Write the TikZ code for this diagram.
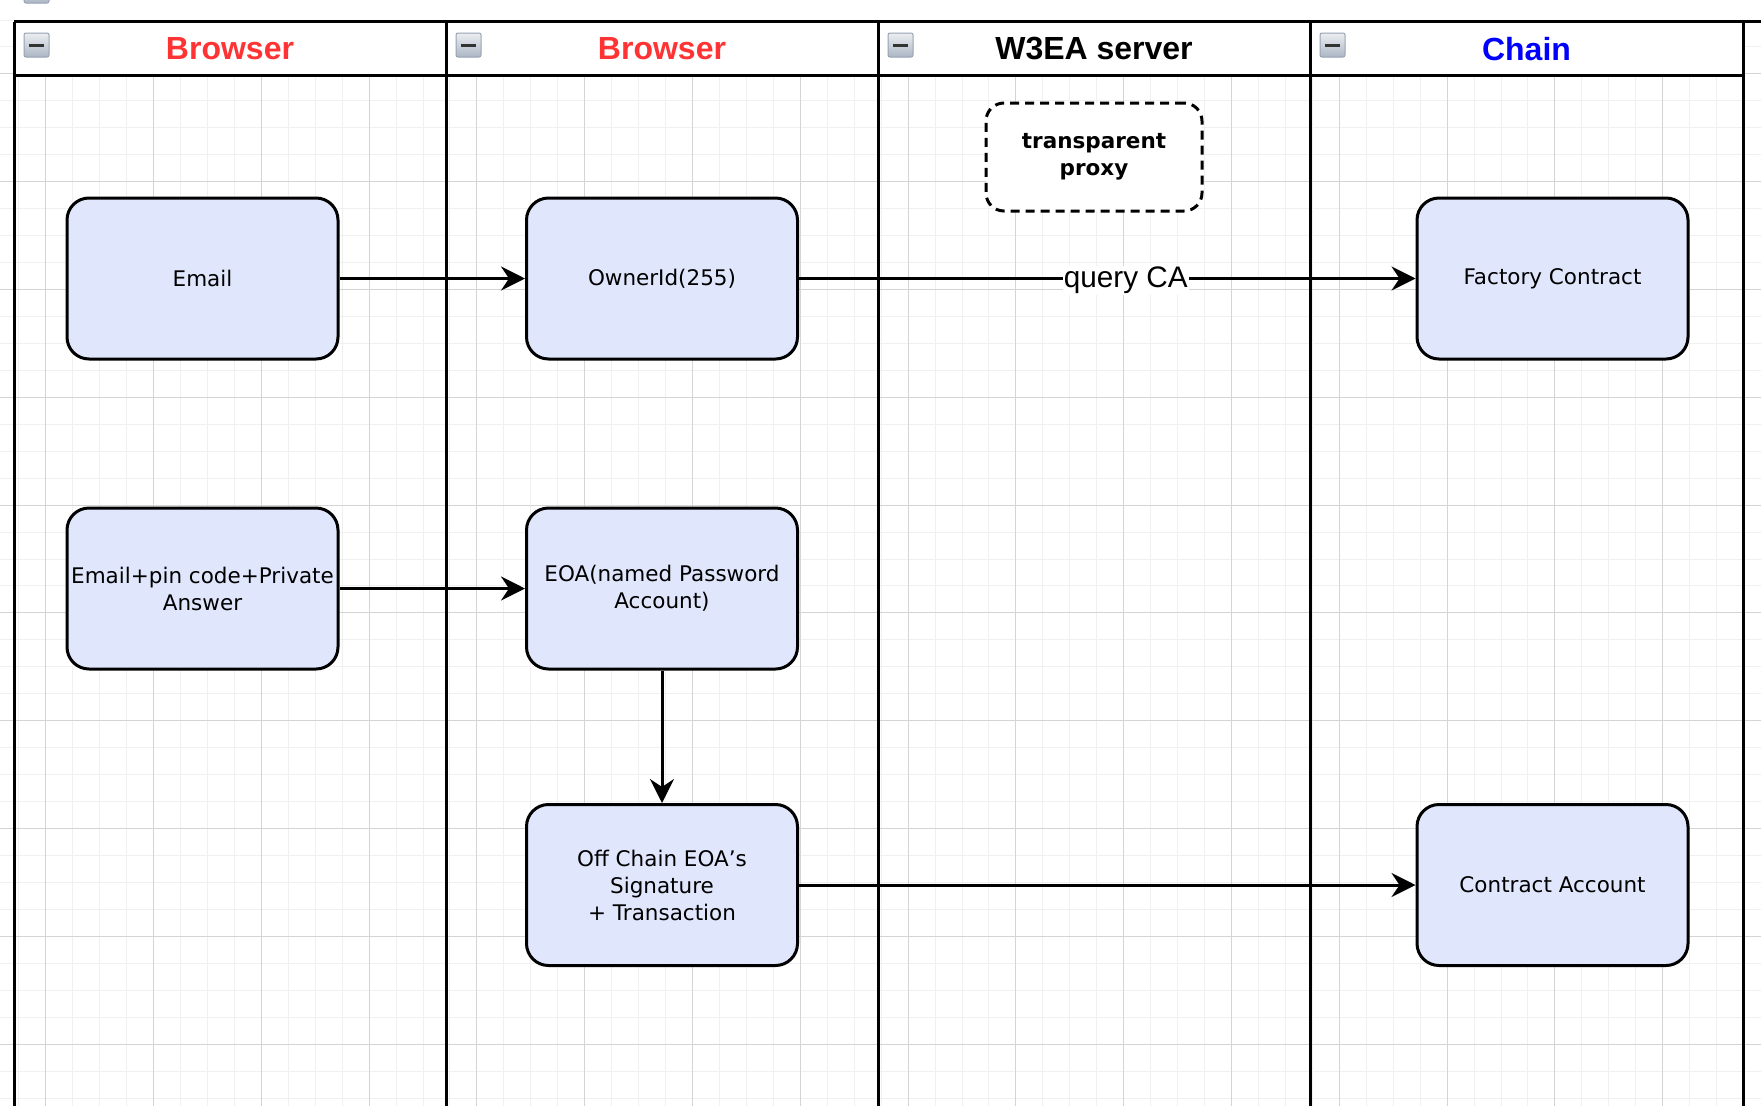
\documentclass[tikz,border=0pt]{standalone}
\usepackage{fontspec}
\setmainfont{DejaVu Sans}
\newfontfamily\lanefont{Liberation Sans}
\usetikzlibrary{arrows.meta}

\definecolor{boxfill}{RGB}{224,230,252}
\definecolor{laneRed}{RGB}{255,51,51}
\definecolor{laneBlue}{RGB}{0,0,255}
\definecolor{gridMinor}{RGB}{240,240,240}
\definecolor{gridMajor}{RGB}{212,212,212}
\definecolor{iconTop}{RGB}{236,238,242}
\definecolor{iconBot}{RGB}{172,182,196}
\definecolor{iconEdge}{RGB}{150,162,180}

\newcommand{\collapser}[2]{
	\pgfmathsetmacro{\CLx}{#1}
	\pgfmathsetmacro{\CLy}{#2}
	\shade[top color=iconTop, bottom color=iconBot, draw=iconEdge, line width=1pt, rounded corners=2pt] (\CLx, \CLy) rectangle ++(25, 24);
	\fill[black!80] (\CLx + 5, \CLy + 10.5) rectangle ++(15, 3.5);
}

\newcommand{\lanehead}[5]{
	\pgfmathsetmacro{\LHa}{#1}
	\pgfmathsetmacro{\LHb}{#2}
	\pgfmathsetmacro{\LHm}{0.5 * \LHa + 0.5 * \LHb}
	\fill[white] (\LHa, 21.7) rectangle (\LHb, 75.7);
	\draw[lane] (\LHa, 21.7) -- (\LHa, 1106);
	\draw[lane] (\LHa, 75.7) -- (\LHb, 75.7);
	\node[text=#4, font=\lanefont\bfseries\fontsize{32}{32}\selectfont] (#5) at (\LHm, 48.7) {#3};
	\collapser{\LHa + 10}{33}
}

\begin{document}
\begin{tikzpicture}[x=1pt, y=-1pt,
	lane/.style={line width=3pt},
	flowbox/.style={draw, line width=3pt, rounded corners=22pt, fill=boxfill, minimum width=271pt, minimum height=161pt, inner sep=0pt, align=center, font=\fontsize{21.5}{27}\selectfont},
	proxybox/.style={draw, line width=3pt, dash pattern=on 9pt off 6pt, rounded corners=18pt, fill=white, minimum width=216pt, minimum height=108pt, inner sep=0pt, align=center, font=\bfseries\fontsize{21.5}{27}\selectfont},
	flow/.style={line width=3pt, -{Stealth[length=24pt, width=24pt, inset=8pt]}}]
\useasboundingbox (0, 0) rectangle (1761, 1106);
\clip (0, 0) rectangle (1761, 1106);

\foreach \i in {0,...,65} \draw[gridMinor, line width=1pt] ({18.75 + 26.95 * \i}, 0) -- ++(0, 1106);
\foreach \j in {0,...,40} \draw[gridMinor, line width=1pt] (0, {20 + 26.95 * \j}) -- ++(1761, 0);
\foreach \i in {0,...,16} \draw[gridMajor, line width=1pt] ({45.7 + 107.8 * \i}, 0) -- ++(0, 1106);
\foreach \j in {0,...,9} \draw[gridMajor, line width=1pt] (0, {73.9 + 107.8 * \j}) -- ++(1761, 0);

\fill[white] (14, 0) rectangle (1761, 21.7);
\collapser{24}{-21}

\lanehead{14}{446}{Browser}{laneRed}{hdA}
\lanehead{446}{878}{Browser}{laneRed}{hdB}
\lanehead{878}{1310}{W3EA server}{black}{hdC}
\lanehead{1310}{1743}{Chain}{laneBlue}{hdD}
\draw[lane] (1743, 21.7) -- (1743, 1106);
\draw[lane] (14, 21.7) -- (1761, 21.7);

\node[proxybox] (proxy) at (1094, 157) {transparent\\proxy};

\node[flowbox] (email) at (202.5, 278.5) {Email};
\node[flowbox] (owner) at (662, 278.5) {OwnerId(255)};
\node[flowbox] (factory) at (1552.5, 278.5) {Factory Contract};
\node[flowbox] (emailpin) at (202.5, 588.5) {Email+pin code+Private\\Answer};
\node[flowbox] (eoa) at (662, 588.5) {EOA(named Password\\Account)};
\node[flowbox] (offchain) at (662, 885) {Off Chain EOA’s\\Signature\\+ Transaction};
\node[flowbox] (contract) at (1552.5, 885) {Contract Account};

\draw[flow] (email) -- (owner);
\draw[flow] (owner) -- node[pos=0.53, yshift=-2pt, fill=white, inner sep=1pt, font=\lanefont\fontsize{29.7}{30}\selectfont] (qca) {query CA} (factory);
\draw[flow] (emailpin) -- (eoa);
\draw[flow] (eoa) -- (offchain);
\draw[flow] (offchain) -- (contract);
\end{tikzpicture}
\end{document}
